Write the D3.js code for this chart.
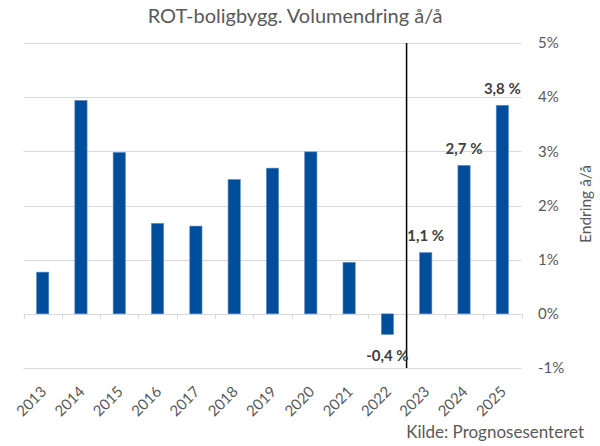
<!DOCTYPE html>
<html>
<head>
<meta charset="utf-8">
<script src="https://cdn.jsdelivr.net/npm/d3@7"></script>
<style>
  body { margin: 0; background: #fff; }
  svg { font-family: Lato, "Open Sans", sans-serif; }
</style>
</head>
<body>
<div id="chart"></div>
<script>
// data
var years = ["2013", "2014", "2015", "2016", "2017", "2018", "2019", "2020", "2021", "2022", "2023", "2024", "2025"];
var change = [0.77, 3.94, 2.98, 1.67, 1.62, 2.48, 2.69, 2.99, 0.95, -0.38, 1.13, 2.74, 3.85];
var labelled = ["2022", "2023", "2024", "2025"];
var labelText = ["-0,4 %", "1,1 %", "2,7 %", "3,8 %"];
var yTicks = [-1, 0, 1, 2, 3, 4, 5];

var w = 600, h = 446;
var plotLeft = 23.5, plotRight = 521.5, plotTop = 43, plotBottom = 368;

var svg = d3.select("#chart").append("svg")
  .attr("width", w)
  .attr("height", h);

var x = d3.scaleBand().domain(years).range([plotLeft, plotRight]).padding(0);
var y = d3.scaleLinear().domain([-1, 5]).range([plotBottom, plotTop]);
var barW = x.bandwidth() * 0.32;

// gridlines
svg.append("g").selectAll("line")
  .data(yTicks)
  .enter().append("line")
  .attr("x1", plotLeft).attr("x2", plotRight)
  .attr("y1", function(d) { return Math.round(y(d)) + 0.5; })
  .attr("y2", function(d) { return Math.round(y(d)) + 0.5; })
  .attr("stroke", "#d9d9d9")
  .attr("stroke-width", 1);

// category tick marks under the zero line
var bounds = years.map(function(d) { return x(d); }).concat([plotRight]);
svg.append("g").selectAll("line")
  .data(bounds)
  .enter().append("line")
  .attr("x1", function(d) { return Math.round(d) + 0.5; })
  .attr("x2", function(d) { return Math.round(d) + 0.5; })
  .attr("y1", y(0))
  .attr("y2", y(0) + 5)
  .attr("stroke", "#d9d9d9");

// right axis labels
svg.append("g").selectAll("text")
  .data(yTicks)
  .enter().append("text")
  .attr("x", 538)
  .attr("y", function(d) { return y(d); })
  .attr("dy", "0.35em")
  .attr("font-size", "15px")
  .attr("fill", "#595959")
  .text(function(d) { return d + "%"; });

// bars
svg.append("g").selectAll("rect")
  .data(change)
  .enter().append("rect")
  .attr("x", function(d, i) { return x(years[i]) + (x.bandwidth() - barW) / 2; })
  .attr("y", function(d) { return y(Math.max(0, d)); })
  .attr("width", barW)
  .attr("height", function(d) { return Math.abs(y(d) - y(0)); })
  .attr("fill", "#004e9b")
  .attr("stroke", "#5e8cc6")
  .attr("stroke-width", 0.6);

// vertical divider between history and forecast
svg.append("line")
  .attr("x1", x("2023")).attr("x2", x("2023"))
  .attr("y1", plotTop).attr("y2", plotBottom)
  .attr("stroke", "#000")
  .attr("stroke-width", 1.5);

// data labels
svg.append("g").selectAll("text")
  .data(labelled)
  .enter().append("text")
  .attr("x", function(d) { return x(d) + x.bandwidth() / 2; })
  .attr("y", function(d) {
    var v = change[years.indexOf(d)];
    return v < 0 ? y(v) + 21 : y(v) - 17;
  })
  .attr("dy", "0.35em")
  .attr("text-anchor", "middle")
  .attr("font-size", "15px")
  .attr("font-weight", "bold")
  .attr("fill", "#404040")
  .text(function(d, i) { return labelText[i]; });

// year labels, rotated
svg.append("g").selectAll("text")
  .data(years)
  .enter().append("text")
  .attr("transform", function(d) {
    return "translate(" + (x(d) + x.bandwidth() / 2 + 1) + "," + (plotBottom + 21) + ") rotate(-45)";
  })
  .attr("text-anchor", "end")
  .attr("dy", "0.35em")
  .attr("font-size", "15px")
  .attr("fill", "#595959")
  .text(function(d) { return d; });

// title
svg.append("text")
  .attr("x", 295)
  .attr("y", 23)
  .attr("text-anchor", "middle")
  .attr("font-size", "20px")
  .attr("fill", "#595959")
  .text("ROT-boligbygg. Volumendring å/å");

// axis title
svg.append("text")
  .attr("transform", "translate(586,204) rotate(-90)")
  .attr("text-anchor", "middle")
  .attr("dy", "0.35em")
  .attr("font-size", "15.5px")
  .attr("fill", "#595959")
  .text("Endring å/å");

// source
svg.append("text")
  .attr("x", 584)
  .attr("y", 438)
  .attr("text-anchor", "end")
  .attr("font-size", "17px")
  .attr("fill", "#595959")
  .text("Kilde: Prognosesenteret");
</script>
</body>
</html>
